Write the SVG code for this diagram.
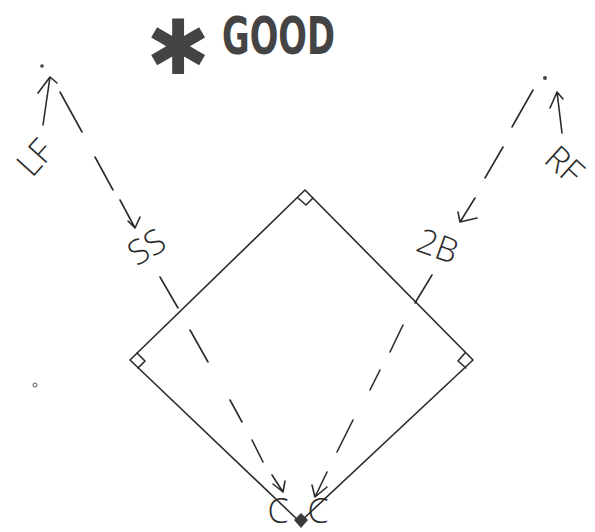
<svg xmlns="http://www.w3.org/2000/svg" width="595" height="532" viewBox="0 0 595 532">
<style>
.ln{fill:none;stroke:#2b2b2b;stroke-width:1.6;stroke-linecap:round;stroke-linejoin:round}
.lbl{font-family:"Open Sans","DejaVu Sans",sans-serif;font-weight:300;font-size:34px;fill:#2b2b2b;text-anchor:middle;dominant-baseline:central}
.ttl{font-family:"DejaVu Sans",sans-serif;font-weight:bold;fill:#444444}
</style>
<rect width="595" height="532" fill="#ffffff"/>
<g id="title">
<text class="ttl" x="178" y="74" font-size="76" text-anchor="middle">✱</text>
<text class="ttl" x="222" y="54" font-size="52" textLength="113" lengthAdjust="spacingAndGlyphs">GOOD</text>
</g>
<g id="field">
<path class="ln" d="M305,190 L473,360 L300,522 L130,360 Z"/>
<path class="ln" d="M298,198 L306,205 L313,198"/>
<path class="ln" d="M137,353 L145,361 L138,368"/>
<path class="ln" d="M465,353 L458,361 L466,368"/>
<path d="M301,513 L308,520 L301,528 L294,520 Z" fill="#3a3a3a"/>
<circle cx="35" cy="385" r="2" fill="none" stroke="#555" stroke-width="1"/>
</g>
<g id="LF">
<circle cx="42" cy="66" r="1.8" fill="#444"/>
<text class="lbl" transform="translate(34,157) rotate(-48)">LF</text>
</g>
<g id="RF">
<circle cx="545" cy="78" r="2" fill="#444"/>
<text class="lbl" font-size="31" transform="translate(565,164) rotate(42)">RF</text>
</g>
<g id="SS">
<text class="lbl" font-size="32" transform="translate(146,246) rotate(-30)">SS</text>
</g>
<g id="2B">
<text class="lbl" font-size="32" transform="translate(438,245) rotate(20)">2B</text>
</g>
<g id="C">
<text class="lbl" x="278" y="510">C</text>
<text class="lbl" x="318" y="510">C</text>
</g>
<g id="connectors">
<path class="ln" d="M43,125 L50,77 M38,93 L50,77 L57,83"/>
<path class="ln" d="M562,133 L557,92 M550,108 L557,92 L563,99"/>
<path class="ln" d="M60,92 L82,132 M95,157 L113,190 M120,200 L135,228 M128,221 L135,228 L140,217"/>
<path class="ln" d="M533,90 L512,127 M503,147 L485,178 M475,198 L460,222 M458,212 L460,222 L477,218"/>
<path class="ln" d="M160,277 L178,308 M190,330 L208,362 M230,400 L242,422 M252,440 L263,462 M272,475 L283,492 M273,484 L283,492 L285,481"/>
<path class="ln" d="M432,275 L415,303 M403,325 L390,352 M380,370 L370,390 M353,420 L337,452 M327,472 L315,497 M312,485 L315,497 L327,487"/>
</g>
</svg>
